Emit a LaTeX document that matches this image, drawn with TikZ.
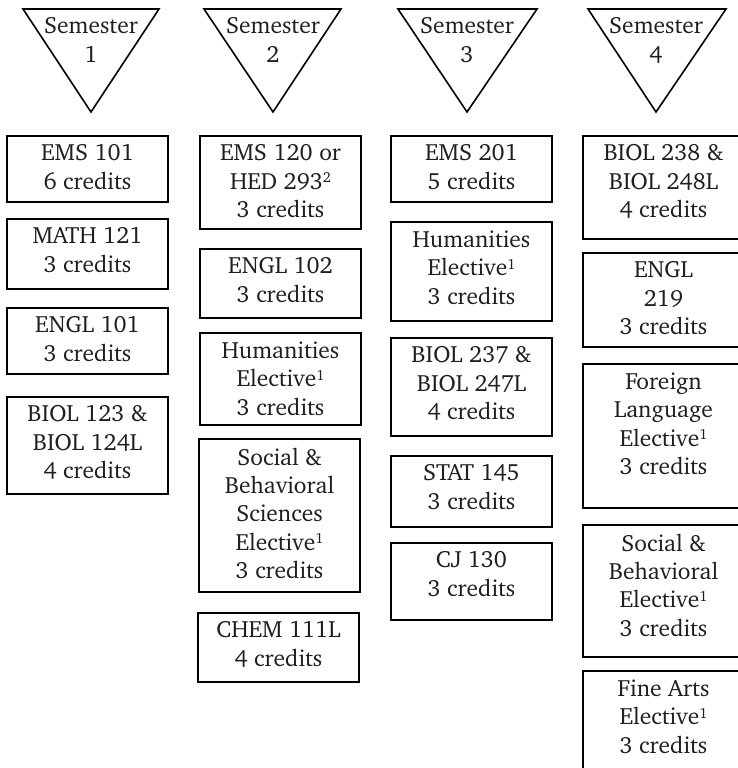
\documentclass[tikz,border=0pt]{standalone}
\usepackage[T1]{fontenc}
\usepackage{charter}
\begin{document}
\begin{tikzpicture}[x=1pt,y=-1pt,
  boxline/.style={draw=black,line width=2.6pt},
  triline/.style={draw=black,line width=1.6pt,line join=miter},
  txt/.style={align=center,inner sep=0pt,anchor=north,text=black!88,
    font=\fontsize{23.5}{28.3}\selectfont,execute at begin node=\strut},
]
\clip (0,0) rectangle (738,768);
\fill[white] (0,0) rectangle (738,768);
% triangles
\foreach \l/\r/\a/\n in {23/159/91/1, 204/341/273/2, 398/537/467/3, 588/726/656/4}{
  \coordinate (tl\n) at (\l,9);
  \coordinate (tr\n) at (\r,9);
  \coordinate (ta\n) at (\a,112);
  \draw[triline] (tl\n) -- (tr\n) -- (ta\n) -- cycle;
  \node[txt] (sem\n) at (\a,17.5) {Semester\\\n};
}
% boxes
\newcommand{\cbox}[5]{% name, left, top, bottom, text
  \pgfmathsetmacro{\rgt}{#2+161}
  \draw[boxline] (#2,#3) rectangle (\rgt,#4);
  \coordinate (#1top) at ({#2+80.5},#3);
  \node[txt] (#1) at ([yshift=-8.5pt]#1top) {#5};
}
\newcommand{\supnum}[1]{\raisebox{6.5pt}{\fontsize{14.5}{14.5}\selectfont #1}}
\def\sone{\supnum{1}}
% column 1
\cbox{a1}{7}{136}{202}{EMS 101\\6 credits}
\cbox{a2}{7}{219}{289}{MATH 121\\3 credits}
\cbox{a3}{7}{308}{374}{ENGL 101\\3 credits}
\cbox{a4}{7}{397}{494}{BIOL 123 \&\\BIOL 124L\\4 credits}
% column 2
\cbox{b1}{200}{136}{229}{EMS 120 or\\HED 293\supnum{2}\\3 credits}
\cbox{b2}{200}{249}{318}{ENGL 102\\3 credits}
\cbox{b3}{200}{333}{425}{Humanities\\Elective\sone\\3 credits}
\cbox{b4}{199}{439}{592}{Social \&\\Behavioral\\Sciences\\Elective\sone\\3 credits}
\cbox{b5}{198}{613}{682}{CHEM 111L\\4 credits}
% column 3
\cbox{c1}{391}{136}{202}{EMS 201\\5 credits}
\cbox{c2}{391}{222}{321}{Humanities\\Elective\sone\\3 credits}
\cbox{c3}{391}{338}{436}{BIOL 237 \&\\BIOL 247L\\4 credits}
\cbox{c4}{391}{456}{527}{STAT 145\\3 credits}
\cbox{c5}{391}{543}{620}{CJ 130\\3 credits}
% column 4
\cbox{d1}{583}{136}{239}{BIOL 238 \&\\BIOL 248L\\4 credits}
\cbox{d2}{583}{253}{347}{ENGL\\219\\3 credits}
\cbox{d3}{583}{364}{508}{Foreign\\Language\\Elective\sone\\3 credits}
\cbox{d4}{583}{525}{657}{Social \&\\Behavioral\\Elective\sone\\3 credits}
\cbox{d5}{583}{671}{800}{Fine Arts\\Elective\sone\\3 credits}
\end{tikzpicture}
\end{document}
